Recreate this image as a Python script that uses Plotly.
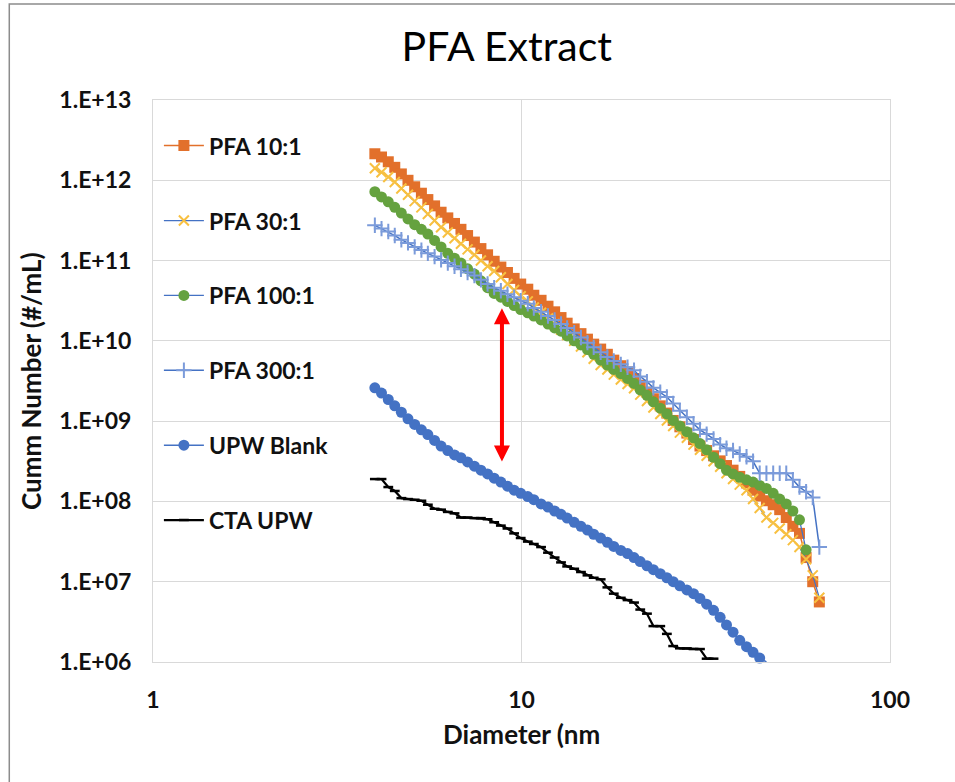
import math
import plotly.graph_objects as go

# ---- data ----
diameter_nm = [4.00, 4.17, 4.35, 4.53, 4.72, 4.92, 5.13, 5.35, 5.57, 5.81,
               6.05, 6.31, 6.58, 6.85, 7.14, 7.45, 7.76, 8.09, 8.43, 8.79,
               9.16, 9.55, 9.95, 10.4, 10.8, 11.3, 11.8, 12.3, 12.8, 13.3,
               13.9, 14.5, 15.1, 15.7, 16.4, 17.1, 17.8, 18.6, 19.4, 20.2,
               21.0, 21.9, 22.8, 23.8, 24.8, 25.8, 26.9, 28.1, 29.3, 30.5,
               31.8, 33.2, 34.6, 36.0, 37.5, 39.1, 40.8, 42.5, 44.3, 46.2,
               48.2, 50.2, 52.3, 54.5, 56.8, 59.2, 61.7, 64.3]

pfa_10 = [2.14e12, 1.95e12, 1.70e12, 1.45e12, 1.20e12, 1.00e12, 8.3e11, 6.9e11, 5.75e11, 4.8e11,
          4.0e11, 3.4e11, 2.9e11, 2.45e11, 2.05e11, 1.7e11, 1.41e11, 1.18e11, 9.8e10, 8.3e10,
          7.1e10, 6.0e10, 5.1e10, 4.4e10, 3.7e10, 3.2e10, 2.7e10, 2.3e10, 1.95e10, 1.66e10,
          1.41e10, 1.23e10, 1.05e10, 9.1e9, 7.9e9, 6.8e9, 5.75e9, 4.9e9, 4.1e9, 3.4e9,
          2.8e9, 2.3e9, 1.9e9, 1.55e9, 1.26e9, 1.02e9, 8.5e8, 7.1e8, 5.9e8, 4.9e8,
          4.3e8, 3.7e8, 3.2e8, 2.8e8, 2.45e8, 2.05e8, 1.7e8, 1.38e8, 1.17e8, 1.02e8,
          9.1e7, 7.9e7, 6.3e7, 4.9e7, 4.0e7, 2.0e7, 1.0e7, 5.6e6]

pfa_30 = [1.41e12, 1.26e12, 1.10e12, 9.5e11, 7.9e11, 6.6e11, 5.5e11, 4.6e11, 3.8e11, 3.16e11,
          2.6e11, 2.24e11, 1.9e11, 1.62e11, 1.38e11, 1.18e11, 1.0e11, 8.5e10, 7.4e10, 6.2e10,
          5.1e10, 4.3e10, 3.6e10, 3.1e10, 2.6e10, 2.24e10, 1.9e10, 1.62e10, 1.38e10, 1.18e10,
          1.0e10, 8.5e9, 7.2e9, 6.0e9, 5.0e9, 4.4e9, 3.8e9, 3.3e9, 2.9e9, 2.57e9,
          2.14e9, 1.78e9, 1.48e9, 1.23e9, 1.02e9, 8.7e8, 7.2e8, 6.2e8, 5.1e8, 4.4e8,
          3.7e8, 3.16e8, 2.7e8, 2.24e8, 1.9e8, 1.62e8, 1.38e8, 1.07e8, 8.3e7, 6.3e7,
          5.4e7, 4.6e7, 3.9e7, 3.3e7, 2.7e7, 1.9e7, 1.2e7, 6.3e6]

pfa_100 = [7.2e11, 6.2e11, 5.4e11, 4.6e11, 3.9e11, 3.3e11, 2.8e11, 2.45e11, 2.14e11, 1.78e11,
           1.48e11, 1.23e11, 1.07e11, 9.3e10, 7.9e10, 6.8e10, 5.6e10, 4.6e10, 3.9e10, 3.5e10,
           3.1e10, 2.75e10, 2.45e10, 2.24e10, 2.04e10, 1.82e10, 1.62e10, 1.45e10, 1.32e10, 1.15e10,
           1.0e10, 8.9e9, 7.8e9, 6.8e9, 5.75e9, 5.0e9, 4.4e9, 3.9e9, 3.4e9, 2.95e9,
           2.45e9, 2.1e9, 1.74e9, 1.45e9, 1.23e9, 1.02e9, 8.7e8, 7.4e8, 6.2e8, 5.25e8,
           4.4e8, 3.55e8, 2.95e8, 2.45e8, 2.2e8, 2.0e8, 1.86e8, 1.74e8, 1.58e8, 1.45e8,
           1.26e8, 1.07e8, 9.3e7, 7.6e7, 5.9e7, 2.5e7]

pfa_300 = [2.75e11, 2.5e11, 2.3e11, 2.05e11, 1.82e11, 1.66e11, 1.48e11, 1.35e11, 1.23e11, 1.12e11,
           1.02e11, 9.3e10, 8.5e10, 7.8e10, 7.1e10, 6.5e10, 5.75e10, 5.1e10, 4.6e10, 4.2e10,
           3.8e10, 3.5e10, 3.16e10, 2.9e10, 2.57e10, 2.3e10, 2.04e10, 1.82e10, 1.62e10, 1.45e10,
           1.26e10, 1.1e10, 9.5e9, 8.3e9, 7.2e9, 6.3e9, 5.6e9, 5.1e9, 4.7e9, 4.3e9,
           3.6e9, 3.1e9, 2.6e9, 2.3e9, 2.0e9, 1.66e9, 1.35e9, 1.12e9, 9.3e8, 7.8e8,
           6.9e8, 6.0e8, 5.1e8, 4.6e8, 4.3e8, 3.9e8, 3.6e8, 3.16e8, 2.24e8, 2.24e8,
           2.24e8, 2.24e8, 2.24e8, 1.86e8, 1.51e8, 1.32e8, 1.12e8, 2.7e7]

upw_blank = [2.6e9, 2.24e9, 1.86e9, 1.55e9, 1.29e9, 1.07e9, 9.1e8, 7.8e8, 6.8e8, 5.75e8,
             4.9e8, 4.3e8, 3.8e8, 3.5e8, 3.1e8, 2.75e8, 2.45e8, 2.2e8, 1.95e8, 1.74e8,
             1.55e8, 1.38e8, 1.26e8, 1.15e8, 1.05e8, 9.3e7, 8.5e7, 7.6e7, 6.9e7, 6.2e7,
             5.5e7, 4.9e7, 4.4e7, 3.9e7, 3.5e7, 3.1e7, 2.75e7, 2.45e7, 2.24e7, 2.0e7,
             1.78e7, 1.58e7, 1.41e7, 1.26e7, 1.12e7, 1.0e7, 8.9e6, 7.9e6, 7.1e6, 6.2e6,
             5.25e6, 4.4e6, 3.6e6, 2.9e6, 2.35e6, 1.86e6, 1.55e6, 1.32e6, 1.12e6, 1.0e6]

cta_upw = [1.9e8, 1.9e8, 1.51e8, 1.35e8, 1.1e8, 1.07e8, 1.05e8, 1.02e8, 9.1e7, 8.1e7,
           7.9e7, 7.4e7, 7.1e7, 6.3e7, 6.3e7, 6.2e7, 6.2e7, 6.0e7, 5.5e7, 5.0e7,
           4.6e7, 4.0e7, 3.5e7, 3.16e7, 2.95e7, 2.7e7, 2.3e7, 2.0e7, 1.74e7, 1.55e7,
           1.45e7, 1.32e7, 1.2e7, 1.12e7, 1.07e7, 8.5e6, 7.1e6, 6.3e6, 5.9e6, 5.5e6,
           4.5e6, 4.0e6, 2.8e6, 2.8e6, 2.24e6, 1.58e6, 1.48e6, 1.48e6, 1.45e6, 1.45e6,
           1.1e6, 1.1e6]

x_tick_vals = [1, 10, 100]
x_tick_text = ["1", "10", "100"]
y_tick_vals = [1e6, 1e7, 1e8, 1e9, 1e10, 1e11, 1e12, 1e13]
y_tick_text = ["1.E+06", "1.E+07", "1.E+08", "1.E+09", "1.E+10", "1.E+11", "1.E+12", "1.E+13"]

# gap marked by the red double arrow (diameter, top, bottom)
arrow_d, arrow_top, arrow_bottom = 8.85, 2.55e10, 3.0e8

FONT = "Lato"
BLUE = "#4472C4"

fig = go.Figure()

fig.add_trace(go.Scatter(
    x=diameter_nm[:len(pfa_10)], y=pfa_10, name="PFA 10:1", mode="lines+markers",
    line=dict(color="#E2702B", width=1.5),
    marker=dict(symbol="square", size=11, color="#E2702B"),
    legendgroup="a", cliponaxis=False))
fig.add_trace(go.Scatter(
    x=diameter_nm[:len(pfa_30)], y=pfa_30, name="PFA 30:1", mode="lines+markers",
    line=dict(color=BLUE, width=1.25),
    marker=dict(symbol="x-thin", size=10, color="#F8C040",
                line=dict(color="#F8C040", width=2)),
    legendgroup="b", cliponaxis=False))
fig.add_trace(go.Scatter(
    x=diameter_nm[:len(pfa_100)], y=pfa_100, name="PFA 100:1", mode="lines+markers",
    line=dict(color=BLUE, width=1.25),
    marker=dict(symbol="circle", size=11, color="#65A23F"),
    legendgroup="c", cliponaxis=False))
fig.add_trace(go.Scatter(
    x=diameter_nm[:len(pfa_300)], y=pfa_300, name="PFA 300:1", mode="lines+markers",
    line=dict(color=BLUE, width=1.5),
    marker=dict(symbol="cross-thin", size=11, color="#7B9BDA",
                line=dict(color="#7B9BDA", width=2)),
    legendgroup="d", cliponaxis=False))
fig.add_trace(go.Scatter(
    x=diameter_nm[:len(upw_blank)], y=upw_blank, name="UPW Blank", mode="lines+markers",
    line=dict(color=BLUE, width=1.5),
    marker=dict(symbol="circle", size=11, color=BLUE),
    legendgroup="e", cliponaxis=False))
fig.add_trace(go.Scatter(
    x=diameter_nm[:len(cta_upw)], y=cta_upw, name="CTA UPW", mode="lines+markers",
    line=dict(color="black", width=2.2),
    marker=dict(symbol="line-ew", size=7, color="black",
                line=dict(color="black", width=2.5)),
    legendgroup="f", cliponaxis=False))

# red double-headed arrow
fig.add_annotation(
    x=math.log10(arrow_d), y=math.log10(arrow_top),
    ax=math.log10(arrow_d), ay=math.log10(arrow_bottom),
    xref="x", yref="y", axref="x", ayref="y", text="",
    showarrow=True, arrowside="end+start",
    arrowhead=2, startarrowhead=2, arrowsize=0.8, startarrowsize=0.8,
    arrowwidth=4, arrowcolor="#FF0000")

# axis titles as annotations
fig.add_annotation(x=0.5, y=-0.128, xref="paper", yref="paper",
                   text="Diameter (nm", showarrow=False, xanchor="center", yanchor="middle",
                   font=dict(family=FONT, size=26, color="#111", weight="bold"))
fig.add_annotation(x=-0.1655, y=0.5, xref="paper", yref="paper",
                   text="Cumm Number (#/mL)", showarrow=False, textangle=-90,
                   xanchor="center", yanchor="middle",
                   font=dict(family=FONT, size=26, color="#111", weight="bold"))

# outer chart frame
fig.add_shape(type="rect", xref="paper", yref="paper",
              x0=-0.195, x1=1.10, y0=-0.23, y1=1.1708,
              line=dict(color="#8C8C8C", width=1.5), fillcolor="rgba(0,0,0,0)", layer="below")

fig.update_layout(
    width=955, height=782,
    margin=dict(l=153, r=65, t=100, b=120),
    paper_bgcolor="white", plot_bgcolor="white",
    title=dict(text="PFA Extract", x=0.48, xref="paper", xanchor="center",
               y=0.94, yref="container", yanchor="middle",
               font=dict(family=FONT, size=41, color="black")),
    font=dict(family=FONT, color="#111"),
    xaxis=dict(type="log", range=[0, 2], tickvals=x_tick_vals, ticktext=x_tick_text,
               showgrid=True, gridcolor="#D9D9D9", gridwidth=1,
               showline=True, linecolor="#D9D9D9", linewidth=1, mirror=True,
               ticks="", ticklabelstandoff=17,
               tickfont=dict(family=FONT, size=23, color="#111", weight="bold"),
               zeroline=False),
    yaxis=dict(type="log", range=[6, 13], tickvals=y_tick_vals, ticktext=y_tick_text,
               showgrid=True, gridcolor="#D9D9D9", gridwidth=1,
               showline=True, linecolor="#D9D9D9", linewidth=1, mirror=True,
               ticks="", ticklabelstandoff=16,
               tickfont=dict(family=FONT, size=23, color="#111", weight="bold"),
               zeroline=False),
    legend=dict(x=0.008, y=0.957, xanchor="left", yanchor="top",
                bgcolor="rgba(0,0,0,0)", borderwidth=0,
                font=dict(family=FONT, size=23, color="#111", weight="bold"),
                tracegroupgap=42, itemwidth=40),
    showlegend=True,
)

fig.write_html("out.html")
